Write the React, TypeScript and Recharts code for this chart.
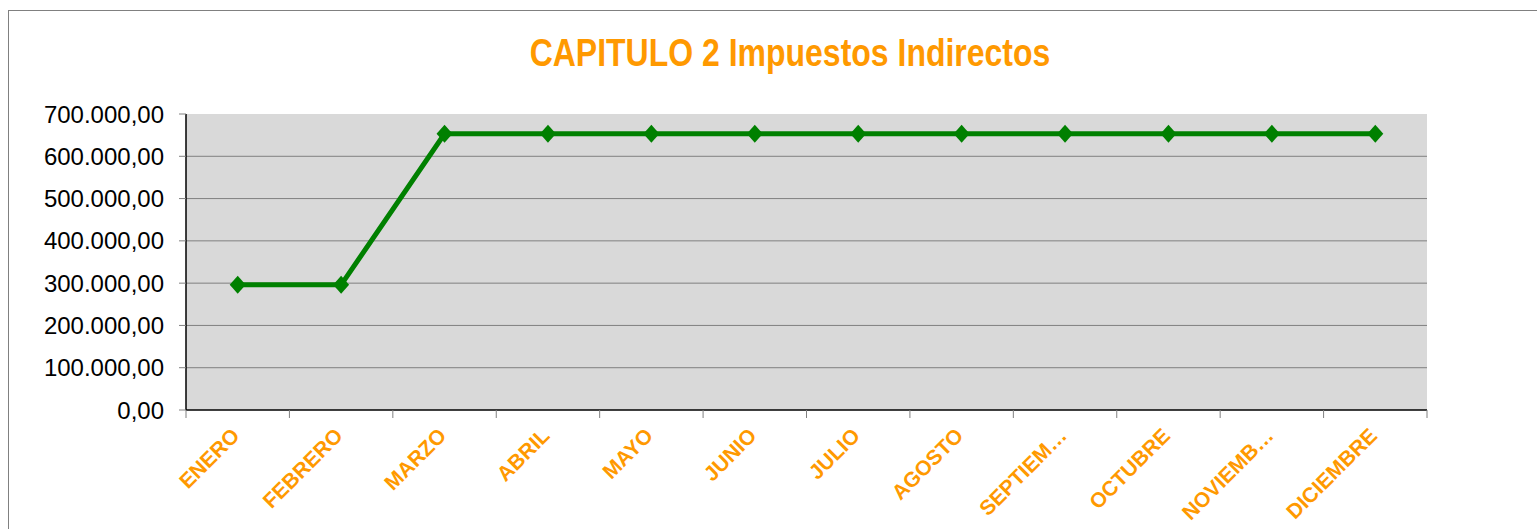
import React from "react"
import {
  LineChart,
  Line,
  XAxis,
  YAxis,
  CartesianGrid,
} from "recharts"

const MESES = [
  "ENERO", "FEBRERO", "MARZO", "ABRIL", "MAYO", "JUNIO",
  "JULIO", "AGOSTO", "SEPTIEMBRE", "OCTUBRE", "NOVIEMBRE", "DICIEMBRE",
]

// etiquetas tal como se ven en el gráfico (recortadas)
const ETIQUETAS = [
  "ENERO", "FEBRERO", "MARZO", "ABRIL", "MAYO", "JUNIO",
  "JULIO", "AGOSTO", "SEPTIEM…", "OCTUBRE", "NOVIEMB…", "DICIEMBRE",
]

const IMPORTES = [
  296000, 296000, 653000, 653000, 653000, 653000,
  653000, 653000, 653000, 653000, 653000, 653000,
]

const Y_TICKS = [0, 100000, 200000, 300000, 400000, 500000, 600000, 700000]
const GRID_VALUES = [100000, 200000, 300000, 400000, 500000, 600000]

const data = MESES.map((mes, i) => ({ mes, idx: i, importe: IMPORTES[i] }))
const X_TICKS = [...MESES.map((_, i) => i - 0.5), MESES.length - 0.5]

const W = 1528
const H = 518
const M = { top: 103, right: 110, left: 0, bottom: 0 }
const Y_W = 177
const BAND = (W - M.right - M.left - Y_W) / MESES.length

const FONT = "'Liberation Sans', Arial, sans-serif"
const NARANJA = "#ff9900"
const VERDE = "#008000"

const fmt = (v: number) =>
  String(v).replace(/\B(?=(\d{3})+(?!\d))/g, ".") + ",00"

function MesTick({ x, y, payload }: any) {
  const i = Math.round(payload.value + 0.5)
  if (i < 0 || i >= ETIQUETAS.length) return null
  const tx = x + BAND / 2 + 3
  return (
    <text
      x={tx}
      y={y}
      transform={`rotate(-45, ${tx}, ${y})`}
      textAnchor="end"
      fill={NARANJA}
      fontWeight="bold"
      fontSize={21}
      fontFamily={FONT}
    >
      {ETIQUETAS[i]}
    </text>
  )
}

function Rombo({ cx, cy, index }: any) {
  if (cx == null || cy == null) return null
  const r = 9
  return (
    <polygon
      key={`rombo-${index}`}
      points={`${cx},${cy - r} ${cx + r - 1},${cy} ${cx},${cy + r} ${cx - r + 1},${cy}`}
      fill={VERDE}
    />
  )
}

export default function App() {
  return (
    <div
      style={{
        position: "fixed",
        left: 8,
        top: 10,
        width: 1560,
        height: 540,
        border: "1px solid #808080",
        background: "#fff",
        fontFamily: FONT,
      }}
    >
      <div
        style={{
          position: "absolute",
          left: 281,
          top: 22,
          width: 1000,
          textAlign: "center",
          color: NARANJA,
          fontWeight: "bold",
          fontSize: 39,
          lineHeight: "39px",
          whiteSpace: "nowrap",
          transform: "scaleX(0.82)",
          transformOrigin: "center",
        }}
      >
        CAPITULO 2 Impuestos Indirectos
      </div>
      <LineChart width={W} height={H} data={data} margin={M}>
        <CartesianGrid
          fill="#d9d9d9"
          stroke="#808080"
          vertical={false}
          horizontalValues={GRID_VALUES}
        />
        <XAxis
          type="number"
          dataKey="idx"
          domain={[-0.5, MESES.length - 0.5]}
          ticks={X_TICKS}
          interval={0}
          height={119}
          tickSize={8}
          tickMargin={19}
          axisLine={{ stroke: "#000", strokeWidth: 1.5 }}
          tickLine={{ stroke: "#808080" }}
          tick={<MesTick />}
        />
        <YAxis
          domain={[0, 700000]}
          ticks={Y_TICKS}
          interval={0}
          width={Y_W}
          tickSize={7}
          tickMargin={15}
          tickFormatter={fmt}
          axisLine={{ stroke: "#000", strokeWidth: 1.5 }}
          tickLine={{ stroke: "#808080" }}
          tick={{ fill: "#000", fontSize: 24, fontFamily: FONT }}
        />
        <Line
          type="linear"
          dataKey="importe"
          stroke={VERDE}
          strokeWidth={5}
          dot={(p: any) => <Rombo key={`d-${p.index}`} {...p} />}
          activeDot={false}
          isAnimationActive={false}
        />
      </LineChart>
    </div>
  )
}
